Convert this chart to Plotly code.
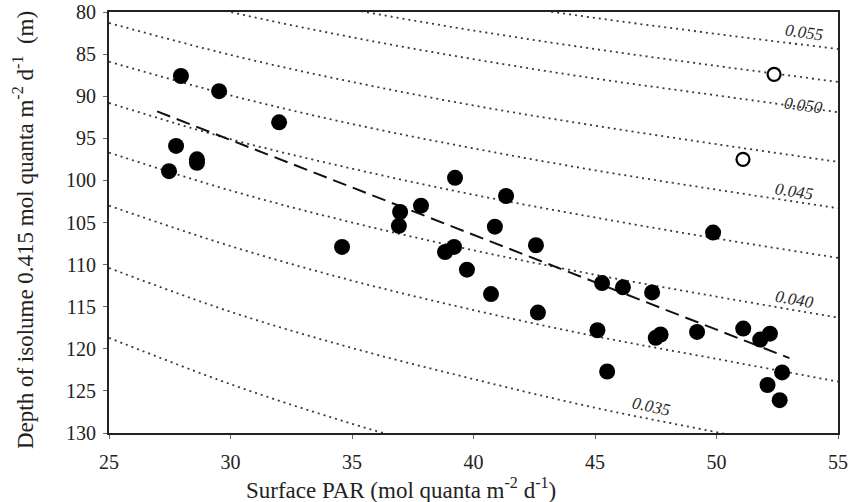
import plotly.graph_objects as go

# ---- data ----
par_filled = [27.96, 29.53, 32.0, 27.76, 28.62, 28.62, 27.47, 34.59, 36.98, 36.93, 37.84,
              39.24, 38.83, 39.2, 39.73, 41.34, 40.88, 42.57, 40.72, 42.65, 45.29, 46.15,
              47.35, 49.86, 45.1, 45.5, 47.5, 47.7, 49.2, 51.1, 51.8, 52.2, 52.1, 52.7, 52.6]
depth_filled = [87.6, 89.4, 93.1, 95.9, 97.5, 97.9, 98.9, 107.9, 103.75, 105.4, 103.0,
                99.7, 108.5, 107.9, 110.6, 101.85, 105.5, 107.7, 113.5, 115.7, 112.2, 112.7,
                113.3, 106.2, 117.8, 122.7, 118.7, 118.3, 118.0, 117.6, 118.9, 118.2, 124.3, 122.8, 126.1]

par_open = [52.37, 51.09]
depth_open = [87.4, 97.5]

fit_x = [26.98, 53.0]
fit_y = [91.8, 121.1]

# dotted isolines (K values), read at x = 25,30,...,55
iso_x = [25, 30, 35, 40, 45, 50, 55]
iso_lines = {
    "0.0325": [118.7, 124.2, 128.9, 133.0, 136.5, 139.7, 142.8],
    "0.035":  [110.4, 115.6, 119.9, 123.6, 127.0, 129.9, 132.8],
    "0.0375": [103.0, 107.8, 111.9, 115.4, 118.5, 121.2, 123.9],
    "0.040":  [96.7, 101.2, 105.0, 108.3, 111.2, 113.8, 116.3],
    "0.0425": [90.8, 95.1, 98.6, 101.7, 104.4, 106.9, 109.2],
    "0.045":  [85.9, 89.9, 93.3, 96.2, 98.8, 101.1, 103.3],
    "0.0475": [81.3, 85.1, 88.3, 91.1, 93.5, 95.7, 97.8],
    "0.050":  [76.4, 80.0, 83.0, 85.6, 87.9, 89.9, 91.9],
    "0.0525": [73.4, 76.8, 79.7, 82.2, 84.4, 86.4, 88.3],
    "0.055":  [70.2, 73.5, 76.2, 78.6, 80.7, 82.6, 84.4],
}
iso_label_text = ["0.055", "0.050", "0.045", "0.040", "0.035"]
iso_label_x = [53.6, 53.6, 53.2, 53.2, 47.3]
iso_label_y = [82.4, 91.1, 101.3, 114.2, 126.9]
iso_label_angle = [8, 8, 9, 10, 12]

x_ticks = [25, 30, 35, 40, 45, 50, 55]
y_ticks = [80, 85, 90, 95, 100, 105, 110, 115, 120, 125, 130]

FONT = "Liberation Serif, Times New Roman, serif"

fig = go.Figure()

for name, ys in iso_lines.items():
    fig.add_trace(go.Scatter(x=iso_x, y=ys, mode="lines",
                             line=dict(color="#3a3a3a", width=1.8, dash="2px,4px", shape="spline"),
                             hoverinfo="skip", showlegend=False))

fig.add_trace(go.Scatter(x=fit_x, y=fit_y, mode="lines",
                         line=dict(color="#111111", width=2, dash="14px,7px"),
                         showlegend=False))

fig.add_trace(go.Scatter(x=par_filled, y=depth_filled, mode="markers",
                         marker=dict(size=16, color="black", line=dict(width=0)),
                         showlegend=False))
fig.add_trace(go.Scatter(x=par_open, y=depth_open, mode="markers",
                         marker=dict(size=13, color="white", line=dict(width=2.2, color="black")),
                         showlegend=False))

for t, lx, ly, ang in zip(iso_label_text, iso_label_x, iso_label_y, iso_label_angle):
    fig.add_annotation(x=lx, y=ly, text="<i>" + t + "</i>", showarrow=False,
                       textangle=ang, font=dict(family=FONT, size=17, color="#2a2a2a"))

fig.add_annotation(xref="paper", yref="paper", x=0.40, y=0, yshift=-55,
                   text="Surface PAR (mol quanta m<sup>-2</sup> d<sup>-1</sup>)",
                   showarrow=False, xanchor="center", yanchor="middle",
                   font=dict(family=FONT, size=23, color="#222222"))
fig.add_annotation(xref="paper", yref="paper", x=0, xshift=-86, y=0.482,
                   text="Depth of isolume 0.415 mol quanta m<sup>-2</sup> d<sup>-1</sup>\u00a0\u00a0(m)",
                   showarrow=False, textangle=-90, xanchor="center", yanchor="middle",
                   font=dict(family=FONT, size=23, color="#222222"))

axis_common = dict(showgrid=False, zeroline=False, showline=True, linecolor="#222222",
                   linewidth=2, mirror=True, ticks="outside", ticklen=4, tickcolor="#666666",
                   automargin=False,
                   tickfont=dict(family=FONT, size=20, color="#222222"))

fig.update_xaxes(range=[25, 55], tickvals=x_ticks, ticklabelstandoff=6, **axis_common)
fig.update_yaxes(range=[130, 80], tickvals=y_ticks, ticklabelstandoff=3, **axis_common)

fig.update_layout(width=853, height=502, margin=dict(l=109, r=15, t=12, b=69),
                  plot_bgcolor="white", paper_bgcolor="white")

fig.write_html("out.html")
